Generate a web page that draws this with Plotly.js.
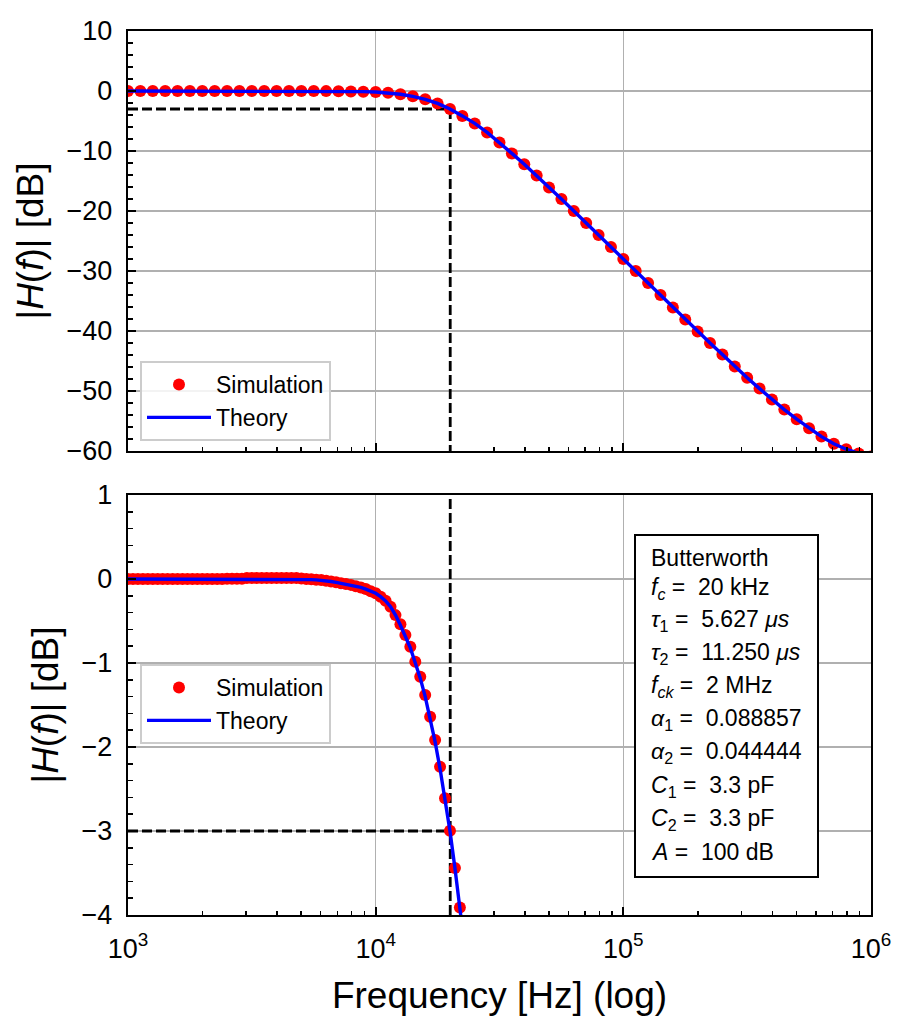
<!DOCTYPE html>
<html>
<head>
<meta charset="utf-8">
<script src="https://cdn.plot.ly/plotly-3.0.1.min.js"></script>
<style>html,body{margin:0;padding:0;background:#fff;}#chart{width:913px;height:1030px;}</style>
</head>
<body>
<div id="chart"></div>
<script>
// ---- data ----
const freqTop = [1000,1122,1259,1413,1585,1778,1995,2239,2512,2818,3162,3548,3981,4467,5012,5623,6310,7079,7943,8913,
  10000,11220,12589,14125,15849,17783,19953,22387,25119,28184,31623,35481,39811,44668,50119,56234,63096,70795,79433,89125,
  100000,112202,125893,141254,158489,177828,199526,223872,251189,281838,316228,354813,398107,446684,501187,562341,630957,707946,794328,891251,1000000];
const simTopDb = [0,0,0,0,0,0,0,0,0,0,0,0,0,0,0,0,-0.02,-0.045,-0.07,-0.11,
  -0.17,-0.30,-0.54,-0.89,-1.38,-2.07,-3.00,-4.15,-5.4,-6.9,-8.6,-10.4,-12.2,-14.1,-16.1,-18.0,-20.0,-22.0,-24.0,-26.0,
  -28.0,-30.0,-32.0,-34.0,-36.1,-38.1,-40.1,-42.0,-43.9,-45.9,-47.8,-49.6,-51.4,-53.1,-54.7,-56.2,-57.6,-58.8,-59.7,-60.4,-60.9];
const theoryTopDb = [0,0,0,0,0,0,0,0,0,0,0,0,0,0,0,0,-0.02,-0.045,-0.07,-0.11,
  -0.17,-0.30,-0.54,-0.89,-1.38,-2.07,-3.00,-4.15,-5.4,-6.9,-8.6,-10.4,-12.2,-14.1,-16.1,-18.0,-20.0,-22.0,-24.0,-26.0,
  -28.0,-30.0,-32.0,-34.0,-36.1,-38.1,-40.1,-42.0,-43.9,-45.9,-47.8,-49.6,-51.4,-53.1,-54.7,-56.2,-57.6,-58.8,-59.7,-60.4,-60.9];

const freqBottom = [1000,1047,1096,1148,1202,1259,1318,1380,1445,1514,1585,1660,1738,1820,1905,1995,2089,2188,2291,2399,
  2512,2630,2754,2884,3020,3162,3311,3467,3631,3802,3981,4169,4365,4571,4786,5012,5248,5495,5754,6026,
  6310,6607,6918,7244,7586,7943,8318,8710,9120,9550,10000,10471,10965,11482,12023,12589,13183,13804,14454,15136,
  15849,16596,17378,18197,19055,19953,20893,21878,22909];
const simBottomDb = [0,0,0,0,0,0,0,0,0,0,0,0,0,0,0,0,0,0,0,0,
  0.004,0.004,0.004,0.004,0.012,0.012,0.012,0.012,0.012,0.012,0.012,0.012,0.012,0.012,0.012,0.005,0,-0.004,-0.008,-0.013,
  -0.02,-0.03,-0.04,-0.05,-0.06,-0.07,-0.085,-0.10,-0.12,-0.145,-0.17,-0.21,-0.26,-0.33,-0.43,-0.54,-0.667,-0.806,-0.984,-1.163,
  -1.381,-1.639,-1.917,-2.234,-2.611,-2.996,-3.44,-3.91,-4.40];
const theoryBottomDb = [0,0,0,0,0,0,0,0,0,0,0,0,0,0,0,0,0,0,0,0,
  0,0,0,0,0,0,0,0,0,0,0,0,0,0,-0.002,-0.004,-0.006,-0.008,-0.011,-0.015,
  -0.02,-0.03,-0.04,-0.05,-0.06,-0.07,-0.085,-0.10,-0.12,-0.145,-0.17,-0.21,-0.26,-0.33,-0.43,-0.55,-0.68,-0.82,-1.00,-1.18,
  -1.40,-1.66,-1.94,-2.26,-2.63,-3.00,-3.44,-3.91,-4.40];

const cutoffFreq = 20000;
const cutoffDb = -3;
const xTickVals = [1e3, 1e4, 1e5, 1e6];
const xTickText = ['10<sup>3</sup>', '10<sup>4</sup>', '10<sup>5</sup>', '10<sup>6</sup>'];
const topRange = [-60, 10];
const bottomRange = [-4, 1];
const infoLines = [
  'Butterworth',
  '<i>f</i><sub><i>c</i></sub> =  20 kHz',
  '<i>τ</i><sub>1</sub> =  5.627 <i>μs</i>',
  '<i>τ</i><sub>2</sub> =  11.250 <i>μs</i>',
  '<i>f</i><sub><i>ck</i></sub> =  2 MHz',
  '<i>α</i><sub>1</sub> =  0.088857',
  '<i>α</i><sub>2</sub> =  0.044444',
  '<i>C</i><sub>1</sub> =  3.3 pF',
  '<i>C</i><sub>2</sub> =  3.3 pF',
  '<i>A</i> =  100 dB'
];
const infoLinePix = [558, 588, 620, 653, 686, 719, 752, 786, 819, 852];

// ---- styling / layout ----
const FONT = 'Liberation Sans, Arial, Helvetica, sans-serif';
const W = 913, H = 1030;
const mL = 128, mR = 42, mT = 31, mB = 115;
const pw = W - mL - mR, ph = H - mT - mB;
const px2x = p => (p - mL) / pw;
const py2y = p => (H - mB - p) / ph;

const dash = {color: 'black', width: 2.8, dash: '10px,4px'};
const traces = [
  {x: [freqTop[0], cutoffFreq], y: [cutoffDb, cutoffDb], xaxis: 'x', yaxis: 'y', mode: 'lines', line: dash, showlegend: false, hoverinfo: 'skip'},
  {x: [cutoffFreq, cutoffFreq], y: [cutoffDb, topRange[0]], xaxis: 'x', yaxis: 'y', mode: 'lines', line: dash, showlegend: false, hoverinfo: 'skip'},
  {x: [freqBottom[0], cutoffFreq], y: [cutoffDb, cutoffDb], xaxis: 'x2', yaxis: 'y2', mode: 'lines', line: dash, showlegend: false, hoverinfo: 'skip'},
  {x: [cutoffFreq, cutoffFreq], y: [bottomRange[0], bottomRange[1]], xaxis: 'x2', yaxis: 'y2', mode: 'lines', line: dash, showlegend: false, hoverinfo: 'skip'},
  {x: freqTop, y: simTopDb, xaxis: 'x', yaxis: 'y', mode: 'markers', name: 'Simulation', marker: {color: 'red', size: 12}, legend: 'legend'},
  {x: freqTop, y: theoryTopDb, xaxis: 'x', yaxis: 'y', mode: 'lines', name: 'Theory', line: {color: 'blue', width: 3.4}, legend: 'legend'},
  {x: freqBottom, y: simBottomDb, xaxis: 'x2', yaxis: 'y2', mode: 'markers', name: 'Simulation', marker: {color: 'red', size: 12}, legend: 'legend2'},
  {x: freqBottom, y: theoryBottomDb, xaxis: 'x2', yaxis: 'y2', mode: 'lines', name: 'Theory', line: {color: 'blue', width: 3.4}, legend: 'legend2'}
];

const minorX = [];
[1e3, 1e4, 1e5].forEach(d => { for (let m = 2; m <= 9; m++) minorX.push(d * m); });

const commonAxis = {
  showline: true, linecolor: 'black', linewidth: 2.2, mirror: true,
  ticks: 'inside', ticklen: 8, tickwidth: 2, tickcolor: 'black',
  showgrid: true, gridcolor: '#b0b0b0', gridwidth: 1.6, zeroline: false,
  tickfont: {family: FONT, size: 27, color: 'black'}
};
const xBase = Object.assign({}, commonAxis, {
  type: 'log', range: [3, 6], tickmode: 'array', tickvals: xTickVals, ticktext: xTickText,
  minor: {tickmode: 'array', tickvals: minorX, ticks: 'inside', ticklen: 4.5, tickwidth: 1.5, tickcolor: 'black', showgrid: false}
});
const domSplit = py2y(451), domSplit2 = py2y(495);

const layout = {
  width: W, height: H, autosize: false,
  margin: {l: mL, r: mR, t: mT, b: mB, pad: 0},
  paper_bgcolor: 'white', plot_bgcolor: 'white',
  font: {family: FONT, color: 'black'},
  xaxis: Object.assign({}, xBase, {anchor: 'y', domain: [0, 1], showticklabels: false, matches: 'x2'}),
  xaxis2: Object.assign({}, xBase, {anchor: 'y2', domain: [0, 1], ticklabelstandoff: 8,
    title: {text: 'Frequency [Hz] (log)', font: {family: FONT, size: 37, color: 'black'}, standoff: 20}}),
  yaxis: Object.assign({}, commonAxis, {anchor: 'x', domain: [domSplit, 1], range: topRange, tickmode: 'linear', tick0: 0, dtick: 10,
    ticklabelstandoff: 8,
    minor: {dtick: 2, ticks: 'inside', ticklen: 4.5, tickwidth: 1.5, tickcolor: 'black', showgrid: false},
    title: {text: '|<i>H</i>(<i>f</i>)| [dB]', font: {family: FONT, size: 37, color: 'black'}, standoff: 12}}),
  yaxis2: Object.assign({}, commonAxis, {anchor: 'x2', domain: [0, domSplit2], range: bottomRange, tickmode: 'linear', tick0: 0, dtick: 1,
    ticklabelstandoff: 8,
    minor: {dtick: 0.2, ticks: 'inside', ticklen: 4.5, tickwidth: 1.5, tickcolor: 'black', showgrid: false},
    title: {text: '|<i>H</i>(<i>f</i>)| [dB]', font: {family: FONT, size: 37, color: 'black'}, standoff: 12}}),
  legend: {x: px2x(140), y: py2y(361), xanchor: 'left', yanchor: 'top', bgcolor: 'rgba(255,255,255,0.85)',
    bordercolor: '#cccccc', borderwidth: 2, font: {family: FONT, size: 23, color: 'black'}, itemwidth: 64},
  legend2: {x: px2x(140), y: py2y(664), xanchor: 'left', yanchor: 'top', bgcolor: 'rgba(255,255,255,0.85)',
    bordercolor: '#cccccc', borderwidth: 2, font: {family: FONT, size: 23, color: 'black'}, itemwidth: 64},
  shapes: [{type: 'rect', xref: 'paper', yref: 'paper', x0: px2x(635), x1: px2x(818), y0: py2y(877), y1: py2y(535),
    line: {color: 'black', width: 2}, fillcolor: 'white', layer: 'above'}],
  annotations: infoLines.map((t, i) => ({
    text: t, xref: 'paper', yref: 'paper', x: px2x(649), y: py2y(infoLinePix[i]), xanchor: 'left', yanchor: 'middle',
    showarrow: false, font: {family: FONT, size: 23, color: 'black'}, align: 'left'
  }))
};

Plotly.newPlot('chart', traces, layout, {staticPlot: true, displayModeBar: false});
</script>
</body>
</html>
